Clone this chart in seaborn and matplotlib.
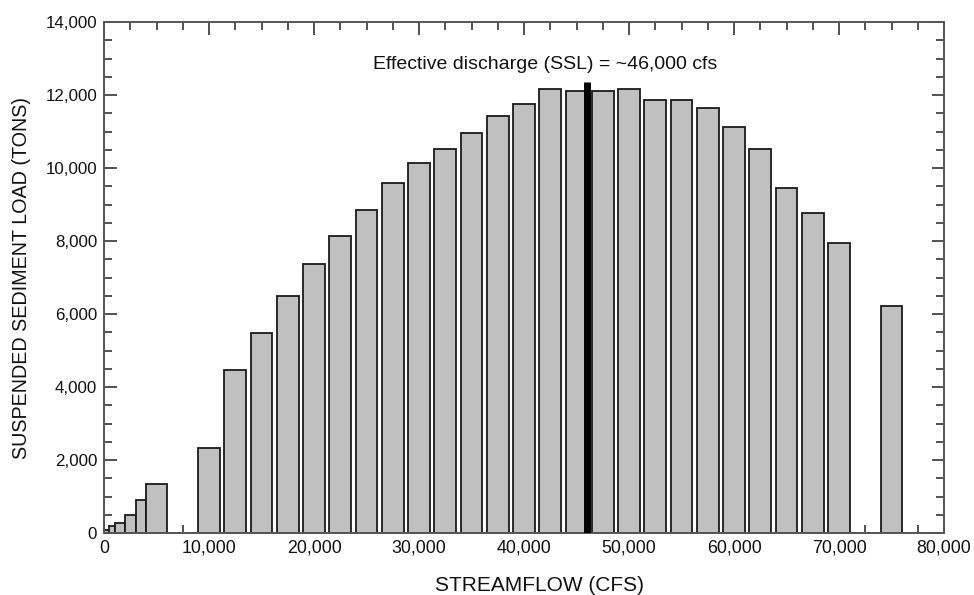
import numpy as np
import pandas as pd
import matplotlib
matplotlib.use('Agg')
import matplotlib.pyplot as plt
import seaborn as sns
from matplotlib.ticker import FuncFormatter, MultipleLocator

# low-flow bins (contiguous, unequal widths)
low_edges = [0, 500, 1000, 2000, 3000, 4000, 6000]
low_load = [80, 200, 280, 500, 900, 1340]

# main bins, 2,500 cfs apart
flow_centers = [10000, 12500, 15000, 17500, 20000, 22500, 25000, 27500, 30000,
                32500, 35000, 37500, 40000, 42500, 45000, 47500, 50000, 52500,
                55000, 57500, 60000, 62500, 65000, 67500, 70000, 75000]
sed_load = [2320, 4470, 5490, 6480, 7380, 8150, 8840, 9600, 10130,
            10530, 10970, 11430, 11750, 12170, 12100, 12100, 12170, 11860,
            11860, 11640, 11120, 10520, 9460, 8770, 7940, 6220]

effective_q = 46000
effective_top = 12370

sns.set_theme(style='ticks')
plt.rcParams['font.family'] = ['Liberation Sans', 'DejaVu Sans']

fig = plt.figure(figsize=(9.74, 5.95), dpi=100)
ax = fig.add_axes([0.1068, 0.1042, 0.8624, 0.8588])

bar_style = dict(color='#c0c0c0', edgecolor='#1a1a1a', linewidth=1.3, alpha=1)

low_df = pd.DataFrame({'q': [(a + b) / 2 for a, b in zip(low_edges[:-1], low_edges[1:])],
                       'load': low_load})
sns.histplot(data=low_df, x='q', weights='load', bins=low_edges, ax=ax, **bar_style)

main_df = pd.DataFrame({'q': flow_centers, 'load': sed_load})
main_edges = [float(e) for e in np.arange(8750, 76251, 2500)]
sns.histplot(data=main_df, x='q', weights='load', bins=main_edges, shrink=0.83,
             ax=ax, **bar_style)

# drop empty bins
for p in list(ax.patches):
    if p.get_height() == 0:
        p.remove()

ax.vlines(effective_q, 0, effective_top, color='black', linewidth=5, zorder=3)
ax.text(42000, 12830, 'Effective discharge (SSL) = ~46,000 cfs',
        ha='center', va='center', fontsize=14, color='#111111')

ax.set_xlim(0, 80000)
ax.set_ylim(0, 14000)
ax.xaxis.set_major_locator(MultipleLocator(10000))
ax.xaxis.set_minor_locator(MultipleLocator(2500))
ax.yaxis.set_major_locator(MultipleLocator(2000))
ax.yaxis.set_minor_locator(MultipleLocator(500))
fmt = FuncFormatter(lambda v, pos: f'{v:,.0f}')
ax.xaxis.set_major_formatter(fmt)
ax.yaxis.set_major_formatter(fmt)

ax.tick_params(which='both', direction='in', top=True, right=True,
               color='#333333', labelcolor='#111111')
ax.tick_params(axis='x', labelsize=12.8)
ax.tick_params(axis='y', labelsize=12.2)
ax.tick_params(which='major', length=9, width=1.2, pad=5)
ax.tick_params(which='minor', length=5.5, width=1.2)
for s in ax.spines.values():
    s.set_color('#555555')
    s.set_linewidth(1.4)

ax.set_xlabel('STREAMFLOW (CFS)', fontsize=15, color='#111111', labelpad=16)
ax.xaxis.set_label_coords(0.519, -0.085)
ax.set_ylabel('SUSPENDED SEDIMENT LOAD (TONS)', fontsize=14.2, color='#111111', labelpad=10)

fig.savefig('out.png', dpi=100)
